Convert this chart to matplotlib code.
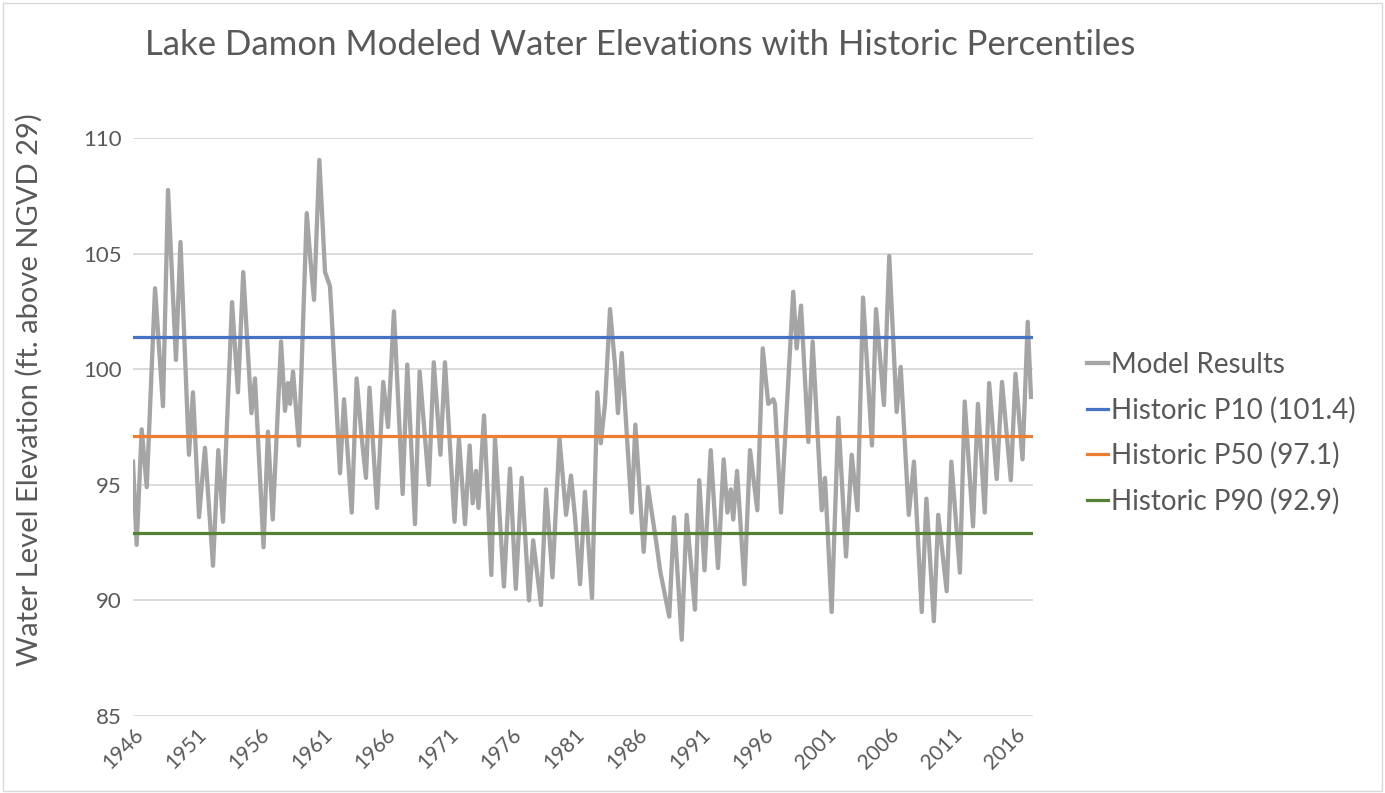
import matplotlib
matplotlib.use("Agg")
import matplotlib.pyplot as plt
from matplotlib.patches import Rectangle

plt.rcParams['font.family'] = ['Lato', 'DejaVu Sans']

title = "Lake Damon Modeled Water Elevations with Historic Percentiles"
ylabel = "Water Level Elevation (ft. above NGVD 29)"

# Turning points of the modeled series (decimal year, elevation ft)
years = [1946.00, 1946.29, 1946.69, 1947.09, 1947.75, 1948.38, 1948.78, 1949.41, 1949.77, 1950.44,
         1950.76, 1951.24, 1951.71, 1952.35, 1952.77, 1953.14, 1953.86, 1954.33, 1954.75, 1955.40,
         1955.68, 1956.36, 1956.71, 1957.09, 1957.75, 1958.06, 1958.30, 1958.46, 1958.70, 1959.17,
         1959.79, 1960.10, 1960.37, 1960.79, 1961.24, 1961.63, 1961.77, 1962.43, 1962.75, 1963.36,
         1963.75, 1964.12, 1964.49, 1964.77, 1965.37, 1965.86, 1966.24, 1966.71, 1967.40, 1967.77,
         1968.38, 1968.75, 1969.48, 1969.87, 1970.40, 1970.76, 1971.52, 1971.87, 1972.35, 1972.72,
         1972.96, 1973.22, 1973.42, 1973.86, 1974.44, 1974.73, 1975.44, 1975.92, 1976.38, 1976.85,
         1977.43, 1977.76, 1978.38, 1978.78, 1979.29, 1979.85, 1980.37, 1980.76, 1981.08, 1981.48,
         1981.87, 1982.43, 1982.85, 1983.13, 1983.46, 1983.86, 1984.25, 1984.49, 1984.79, 1985.58,
         1985.87, 1986.53, 1986.87, 1987.56, 1987.83, 1988.56, 1988.94, 1989.55, 1989.94, 1990.60,
         1990.94, 1991.36, 1991.85, 1992.43, 1992.88, 1993.18, 1993.44, 1993.64, 1993.94, 1994.53,
         1994.97, 1995.55, 1995.98, 1996.42, 1996.82, 1996.95, 1997.43, 1998.40, 1998.67, 1999.02,
         1999.60, 1999.94, 2000.66, 2000.92, 2001.45, 2001.98, 2002.59, 2003.04, 2003.50, 2003.94,
         2004.65, 2004.97, 2005.60, 2006.02, 2006.61, 2006.93, 2007.57, 2007.98, 2008.60, 2008.97,
         2009.56, 2009.91, 2010.58, 2010.95, 2011.63, 2012.01, 2012.67, 2013.06, 2013.60, 2013.95,
         2014.55, 2014.97, 2015.67, 2016.04, 2016.60, 2017.01, 2017.27]
model = [96.0, 92.4, 97.4, 94.9, 103.5, 98.4, 107.75, 100.4, 105.5, 96.3,
         99.0, 93.6, 96.6, 91.5, 96.5, 93.4, 102.9, 99.0, 104.2, 98.1,
         99.6, 92.3, 97.3, 93.5, 101.2, 98.2, 99.4, 98.5, 99.9, 96.7,
         106.75, 104.6, 103.0, 109.05, 104.2, 103.6, 102.3, 95.5, 98.7, 93.8,
         99.6, 97.2, 95.3, 99.2, 94.0, 99.45, 97.5, 102.5, 94.6, 100.2,
         93.3, 99.9, 95.0, 100.3, 96.3, 100.3, 93.4, 97.0, 93.3, 96.7,
         94.2, 95.6, 94.0, 98.0, 91.1, 97.0, 90.6, 95.7, 90.5, 95.3,
         90.0, 92.6, 89.8, 94.8, 91.0, 97.0, 93.7, 95.4, 93.6, 90.7,
         94.7, 90.1, 99.0, 96.8, 98.5, 102.6, 100.2, 98.1, 100.7, 93.8,
         97.6, 92.1, 94.9, 92.4, 91.3, 89.3, 93.6, 88.3, 93.7, 89.6,
         95.2, 91.3, 96.5, 91.4, 96.1, 93.8, 94.8, 93.5, 95.6, 90.7,
         96.5, 93.9, 100.9, 98.5, 98.7, 98.5, 93.8, 103.35, 100.9, 102.75,
         96.85, 101.2, 93.9, 95.3, 89.5, 97.9, 91.9, 96.3, 93.9, 103.1,
         96.7, 102.6, 98.45, 104.9, 98.15, 100.1, 93.7, 96.0, 89.5, 94.4,
         89.1, 93.7, 90.4, 96.0, 91.2, 98.6, 93.2, 98.5, 93.8, 99.4,
         95.25, 99.45, 95.2, 99.8, 96.1, 102.05, 98.8]

p_labels = ["Historic P10 (101.4)", "Historic P50 (97.1)", "Historic P90 (92.9)"]
p_values = [101.4, 97.1, 92.9]
p_colors = ["#4472C4", "#ED7D31", "#548235"]

x_ticks = list(range(1946, 2017, 5))
y_ticks = [85, 90, 95, 100, 105, 110]

fig = plt.figure(figsize=(13.85, 7.93), dpi=100)
ax = fig.add_axes([133/1385, 1-716/793, 900/1385, (716-138)/793])

ax.plot(years, model, color="#A5A5A5", lw=3.1, label="Model Results", zorder=3,
        solid_joinstyle="round")
for lab, val, col in zip(p_labels, p_values, p_colors):
    ax.plot([1946.0, 2017.43], [val, val], color=col, lw=2.3, label=lab, zorder=4)

ax.set_xlim(1946.0, 2017.43)
ax.set_ylim(85, 110)
ax.set_xticks(x_ticks)
ax.set_xticklabels([str(t) for t in x_ticks], rotation=45, ha="right",
                   rotation_mode="anchor", fontsize=15, color="#595959")
ax.set_yticks(y_ticks)
ax.set_yticklabels([str(t) for t in y_ticks], fontsize=16, color="#595959")
ax.tick_params(axis="both", length=0)
ax.tick_params(axis="y", pad=8)
ax.tick_params(axis="x", pad=6)
ax.grid(axis="y", color="#D9D9D9", lw=1.3)
ax.set_axisbelow(True)
for s in ax.spines.values():
    s.set_visible(False)

ax.set_ylabel(ylabel, fontsize=21, color="#595959")
ax.yaxis.set_label_coords(-0.1, 0.564)
fig.text(640/1385, 1-45/793, title, ha="center", va="center", fontsize=25, color="#595959")

leg = ax.legend(loc="center left", bbox_to_anchor=(1.032, 0.489), frameon=False,
                fontsize=20, handlelength=0.75, handletextpad=0.12, labelspacing=0.67,
                labelcolor="#595959")

fig.patches.append(Rectangle((0.002, 0.002), 0.996, 0.994, transform=fig.transFigure,
                             fill=False, edgecolor="#D9D9D9", lw=1.0))

fig.savefig("out.png", dpi=100, facecolor="white")
